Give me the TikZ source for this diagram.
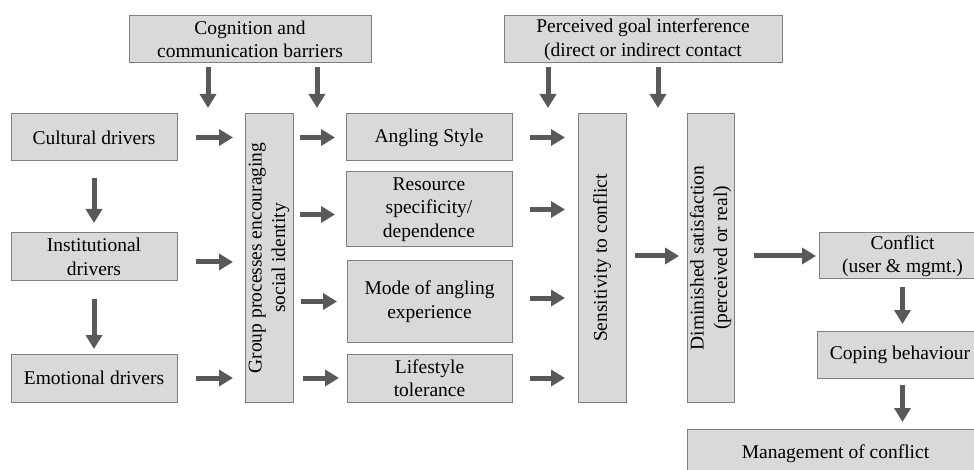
\documentclass[tikz,border=0pt]{standalone}
\usepackage{fontspec}
\setmainfont{Liberation Serif}
\usetikzlibrary{arrows.meta}
\definecolor{boxfill}{HTML}{D9D9D9}
\definecolor{boxline}{HTML}{7F7F7F}
\definecolor{arrcol}{HTML}{595959}
\begin{document}
\begin{tikzpicture}[x=1pt,y=-1pt,
  box/.style={draw=boxline,fill=boxfill,line width=1pt,inner sep=0pt,outer sep=0pt,
    align=center,font=\fontsize{19.5}{23.5}\selectfont},
  arr/.style={draw=arrcol,line width=5pt,-{Triangle[length=14pt,width=16pt]}}]
\useasboundingbox (0,0) rectangle (974,470);
\clip (0,0) rectangle (974,470);
\fill[white] (0,0) rectangle (974,470);
% top boxes
\node[box,minimum width=242pt,minimum height=47pt] (cog) at (250,39.5) {Cognition and\\communication barriers};
\node[box,minimum width=278pt,minimum height=47pt] (per) at (643,39.5) {Perceived goal interference\\(direct or indirect contact};
% drivers
\node[box,minimum width=166pt,minimum height=47pt] (cul) at (94,137.5) {Cultural drivers};
\node[box,minimum width=166pt,minimum height=48pt] (ins) at (94,257) {Institutional\\drivers};
\node[box,minimum width=166pt,minimum height=48pt] (emo) at (94,378) {Emotional drivers};
% group
\node[box,rotate=90,minimum width=288pt,minimum height=48pt] (grp) at (269,258) {Group processes encouraging\\social identity};
% middle column
\node[box,minimum width=166pt,minimum height=47pt] (ang) at (429,137.5) {Angling Style};
\node[box,minimum width=166pt,minimum height=75pt] (res) at (429,209.5) {Resource\\specificity/\\dependence};
\node[box,minimum width=165pt,minimum height=81pt] (mode) at (429.5,301.5) {Mode of angling\\experience};
\node[box,minimum width=165pt,minimum height=48pt] (life) at (429.5,378) {Lifestyle\\tolerance};
% vertical boxes
\node[box,rotate=90,minimum width=288pt,minimum height=48pt] (sens) at (602,258) {Sensitivity to conflict};
\node[box,rotate=90,minimum width=288pt,minimum height=47pt] (dim) at (710.5,258) {Diminished satisfaction\\(perceived or real)};
% right column
\node[box,minimum width=167pt,minimum height=46pt] (con) at (902.5,256) {Conflict\\(user \& mgmt.)};
\node[box,minimum width=166pt,minimum height=47pt] (cope) at (900,354.5) {Coping behaviour};
\node[box,minimum width=297pt,minimum height=50pt] (mgmt) at (835.5,454) {Management of conflict};
% down arrows from top boxes
\draw[arr,shorten <=4pt] ([xshift=79pt]cog.south west) -- ++(0,45);
\draw[arr,shorten <=4pt] ([xshift=188pt]cog.south west) -- ++(0,45);
\draw[arr,shorten <=4pt] ([xshift=44pt]per.south west) -- ++(0,45);
\draw[arr,shorten <=4pt] ([xshift=154pt]per.south west) -- ++(0,45);
% drivers
\draw[arr,shorten <=19pt,shorten >=12pt] (cul.east) -- (cul.east -| grp.north);
\draw[arr,shorten <=19pt,shorten >=12pt] ([yshift=-5pt]ins.east) -- ([yshift=-5pt]ins.east -| grp.north);
\draw[arr,shorten <=19pt,shorten >=12pt] (emo.east) -- (emo.east -| grp.north);
\draw[arr,shorten <=17pt,shorten >=10pt] (cul.south) -- (ins.north);
\draw[arr,shorten <=18pt,shorten >=5pt] (ins.south) -- (emo.north);
% group to middle
\draw[arr,shorten <=7pt,shorten >=11pt] (grp.south |- ang.west) -- (ang.west);
\draw[arr,shorten <=7pt,shorten >=11pt] ([yshift=-5pt]grp.south |- res.west) -- ([yshift=-5pt]res.west);
\draw[arr,shorten <=8pt,shorten >=10pt] (grp.south |- mode.west) -- (mode.west);
\draw[arr,shorten <=10pt,shorten >=8pt] (grp.south |- life.west) -- (life.west);
% middle to sensitivity
\draw[arr,shorten <=18pt,shorten >=13pt] (ang.east) -- (ang.east -| sens.north);
\draw[arr,shorten <=18pt,shorten >=13pt] (res.east) -- (res.east -| sens.north);
\draw[arr,shorten <=18pt,shorten >=13pt] ([yshift=3.5pt]mode.east) -- ([yshift=3.5pt]mode.east -| sens.north);
\draw[arr,shorten <=18pt,shorten >=13pt] (life.east) -- (life.east -| sens.north);
% right chain
\draw[arr,shorten <=9pt,shorten >=8pt] ([yshift=2pt]sens.south) -- ([yshift=2pt]sens.south -| dim.north);
\draw[arr,shorten <=20pt,shorten >=3pt] (dim.south |- con.west) -- (con.west);
\draw[arr,shorten <=8pt,shorten >=7pt] (con.south) -- (con.south |- cope.north);
\draw[arr,shorten <=7pt,shorten >=7pt] (con.south |- cope.south) -- (con.south |- mgmt.north);
\end{tikzpicture}
\end{document}
